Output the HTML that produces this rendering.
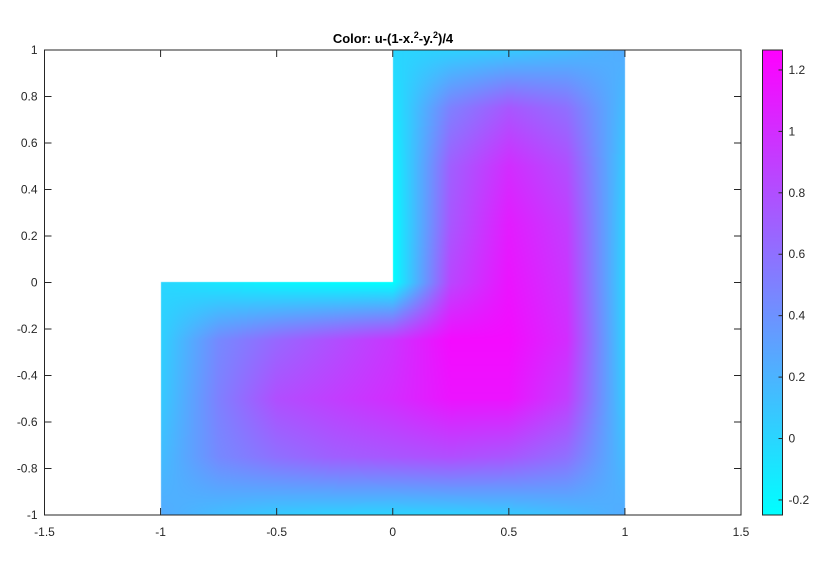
<!DOCTYPE html>
<html><head><meta charset="utf-8"><style>
body{margin:0;background:#fff;width:834px;height:578px;overflow:hidden;position:relative;font-family:"Liberation Sans",Arial,sans-serif}
#cv{position:absolute;left:0;top:0}
svg{position:absolute;left:0;top:0}
</style></head><body>
<canvas id="cv" width="834" height="578"></canvas>
<svg id="sv" width="834" height="578"></svg>
<script>
// grid data: x = -1..1 step .25, rows y = 1 down to -1 (null = outside domain)
const xs=[-1,-0.75,-0.5,-0.25,0,0.25,0.5,0.75,1];
const ys=[1,0.75,0.5,0.25,0,-0.25,-0.5,-0.75,-1];
const N=null;
const vals=[
[N,N,N,N,0,0.02,0.06,0.14,0.25],
[N,N,N,N,-0.11,0.5,0.75,0.6,0.14],
[N,N,N,N,-0.19,0.7,1.0,0.8,0.06],
[N,N,N,N,-0.23,0.75,1.1,0.9,0.02],
[0,-0.11,-0.19,-0.23,-0.25,0.85,1.15,0.95,0],
[0.02,0.45,0.65,0.8,0.95,1.2,1.2,1.0,0.02],
[0.06,0.5,0.8,0.9,1.0,1.15,1.15,0.9,0.06],
[0.14,0.45,0.6,0.7,0.75,0.8,0.75,0.6,0.14],
[0.25,0.14,0.06,0.02,0,0.02,0.06,0.14,0.25]];
const xTicks=[-1.5,-1,-0.5,0,0.5,1,1.5];
const yTicks=[-1,-0.8,-0.6,-0.4,-0.2,0,0.2,0.4,0.6,0.8,1];
const cTicks=[-0.2,0,0.2,0.4,0.6,0.8,1,1.2];
const cMin=-0.249,cMax=1.265;

const L=44.5,R=741,T=50,B=515;
const sx=x=>L+(x+1.5)/3*(R-L);
const sy=y=>B-(y+1)/2*(B-T);
const ix=p=>(p-L)/(R-L)*3-1.5;
const iy=p=>(B-p)/(B-T)*2-1;
function cool(v){let t=(v-cMin)/(cMax-cMin);t=Math.max(0,Math.min(1,t));return [Math.round(255*t),Math.round(255*(1-t)),255];}

const cv=document.getElementById('cv'),ctx=cv.getContext('2d');
const img=ctx.createImageData(834,578);
for(let py=Math.ceil(T);py<B;py++){for(let px=Math.ceil(sx(-1));px<sx(1);px++){
 const x=ix(px+0.5),y=iy(py+0.5);
 if(x<-1||x>1||y<-1||y>1)continue;
 if(x<0&&y>0)continue;
 let i=Math.min(7,Math.floor((x+1)/0.25)),j=Math.min(7,Math.floor((1-y)/0.25));
 const fx=(x-xs[i])/0.25,fy=(ys[j]-y)/0.25;
 const a=vals[j][i],b=vals[j][i+1],c=vals[j+1][i],d=vals[j+1][i+1];
 if(a==null||b==null||c==null||d==null)continue;
 const v=a*(1-fx)*(1-fy)+b*fx*(1-fy)+c*(1-fx)*fy+d*fx*fy;
 const col=cool(v),k=(py*834+px)*4;
 img.data[k]=col[0];img.data[k+1]=col[1];img.data[k+2]=col[2];img.data[k+3]=255;
}}
ctx.putImageData(img,0,0);

const sv=document.getElementById('sv'),NS='http://www.w3.org/2000/svg';
function el(t,at,txt){const e=document.createElementNS(NS,t);for(const k in at)e.setAttribute(k,at[k]);if(txt!=null)e.textContent=txt;sv.appendChild(e);return e;}
let e=el('rect',{x:L,y:T,width:R-L,height:B-T,fill:'none',stroke:'#262626','stroke-width':1});


xTicks.forEach(t=>{const X=sx(t);
 el('line',{x1:X,x2:X,y1:B,y2:B-7,stroke:'#262626'});el('line',{x1:X,x2:X,y1:T,y2:T+7,stroke:'#262626'});
 const tx=el('text',{x:X,y:B+21,'text-anchor':'middle','font-size':12,fill:'#262626'},String(t));
 
 });
yTicks.forEach(t=>{const Y=sy(t);
 el('line',{x1:L,x2:L+7,y1:Y,y2:Y,stroke:'#262626'});el('line',{x1:R,x2:R-7,y1:Y,y2:Y,stroke:'#262626'});
 const tx=el('text',{x:L-7,y:Y+4,'text-anchor':'end','font-size':12,fill:'#262626'},String(t));
 
 });
const defs=el('defs',{});const g=document.createElementNS(NS,'linearGradient');g.setAttribute('id','cg');g.setAttribute('x1',0);g.setAttribute('y1',1);g.setAttribute('x2',0);g.setAttribute('y2',0);
[[0,'#00ffff'],[1,'#ff00ff']].forEach(s=>{const st=document.createElementNS(NS,'stop');st.setAttribute('offset',s[0]);st.setAttribute('stop-color',s[1]);g.appendChild(st);});defs.appendChild(g);
const CX=762.5,CW=20;
const cy=v=>B-(v-cMin)/(cMax-cMin)*(B-T);
e=el('rect',{x:CX,y:T,width:CW,height:B-T,fill:'url(#cg)',stroke:'#262626'});


cTicks.forEach(t=>{const Y=cy(t);
 el('line',{x1:CX+CW,x2:CX+CW-4,y1:Y,y2:Y,stroke:'#262626'});
 const tx=el('text',{x:CX+CW+6,y:Y+4,'font-size':12,fill:'#262626'},String(t));
 
 });
const ti=el('text',{x:393,y:43,'text-anchor':'middle','font-size':13,'font-weight':'bold',fill:'#000'});


ti.innerHTML='Color: u-(1-x.<tspan dy="-5" font-size="9">2</tspan><tspan dy="5">-y.</tspan><tspan dy="-5" font-size="9">2</tspan><tspan dy="5">)/4</tspan>';
</script>
</body></html>
